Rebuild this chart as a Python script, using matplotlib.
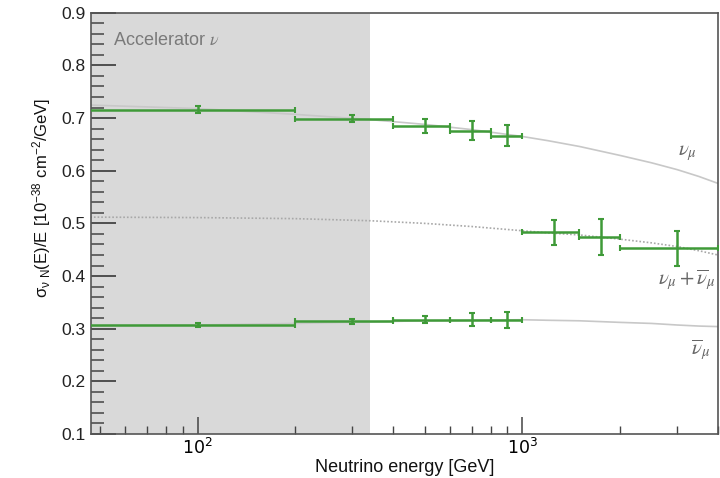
import matplotlib
matplotlib.use('Agg')
import matplotlib.pyplot as plt
from matplotlib.ticker import LogLocator, MultipleLocator, NullFormatter, FixedLocator

plt.rcParams['font.family'] = ['Liberation Sans', 'DejaVu Sans']

# measured points: bin centres, bin edges, values, errors
numu_x = [100, 300, 500, 700, 900]
numu_lo = [40, 200, 400, 600, 800]
numu_hi = [200, 400, 600, 800, 1000]
numu_y = [0.716, 0.699, 0.685, 0.676, 0.666]
numu_err = [0.006, 0.007, 0.014, 0.018, 0.020]

nubar_x = [100, 300, 500, 700, 900]
nubar_lo = [40, 200, 400, 600, 800]
nubar_hi = [200, 400, 600, 800, 1000]
nubar_y = [0.307, 0.314, 0.317, 0.317, 0.317]
nubar_err = [0.003, 0.005, 0.007, 0.012, 0.015]

sum_x = [1250, 1750, 3000]
sum_lo = [1000, 1500, 2000]
sum_hi = [1500, 2000, 4000]
sum_y = [0.483, 0.474, 0.453]
sum_err = [0.024, 0.034, 0.033]

# theory curves
curve_e = [40, 100, 200, 340, 500, 700, 1000, 1200, 1500, 2000, 2500, 3000, 3500, 4000]
curve_numu = [0.726, 0.718, 0.707, 0.697, 0.688, 0.678, 0.665, 0.657, 0.646, 0.629,
              0.615, 0.602, 0.589, 0.576]
curve_nubar = [0.305, 0.307, 0.310, 0.313, 0.315, 0.316, 0.317, 0.316, 0.315, 0.312,
               0.310, 0.307, 0.305, 0.304]
curve_sum = [0.512, 0.511, 0.509, 0.505, 0.500, 0.494, 0.486, 0.482, 0.478, 0.470,
             0.463, 0.456, 0.448, 0.440]

accel_max = 340
green = '#3f9a38'

fig = plt.figure(figsize=(7.2, 4.78), dpi=100)
ax = fig.add_axes([0.1264, 0.092, 0.8706, 0.8814])

ax.axvspan(30, accel_max, color='#d9d9d9', lw=0, zorder=0)

ax.plot(curve_e, curve_numu, color='#c8c8c8', lw=1.2, zorder=1)
ax.plot(curve_e, curve_nubar, color='#c8c8c8', lw=1.2, zorder=1)
ax.plot(curve_e, curve_sum, color='#a8a8a8', lw=1.2, ls=(0, (1, 1.2)), zorder=1)

for xs, lo, hi, ys, es in [(numu_x, numu_lo, numu_hi, numu_y, numu_err),
                           (nubar_x, nubar_lo, nubar_hi, nubar_y, nubar_err),
                           (sum_x, sum_lo, sum_hi, sum_y, sum_err)]:
    xerr = [[x - l for x, l in zip(xs, lo)], [h - x for x, h in zip(xs, hi)]]
    ax.errorbar(xs, ys, xerr=xerr, yerr=es, fmt='none', ecolor=green,
                elinewidth=1.8, capsize=2, capthick=1.5, zorder=3)

ax.set_xscale('log')
ax.set_xlim(47, 4000)
ax.set_ylim(0.1, 0.9)

ax.yaxis.set_major_locator(MultipleLocator(0.1))
ax.yaxis.set_minor_locator(MultipleLocator(0.02))
ax.xaxis.set_major_locator(FixedLocator([100, 1000]))
ax.xaxis.set_minor_locator(LogLocator(base=10, subs=range(2, 10)))
ax.xaxis.set_minor_formatter(NullFormatter())
ax.set_xticklabels(['$10^2$', '$10^3$'])

ax.tick_params(axis='y', which='major', direction='in', length=18, width=1.3,
               color='#444444', labelsize=12.5, pad=4, right=False)
ax.tick_params(axis='y', which='minor', direction='in', length=9, width=1.1,
               color='#444444', right=False)
ax.tick_params(axis='x', which='major', direction='in', length=12, width=1.1,
               color='#444444', labelsize=12.5, pad=2, top=False)
ax.tick_params(axis='x', which='minor', direction='in', length=6, width=1.0,
               color='#444444', top=False)
for lab in ax.get_yticklabels():
    lab.set_color('#222222')

for s in ax.spines.values():
    s.set_color('#555555')
    s.set_linewidth(1.2)

ax.text(0.035, 0.935, r'Accelerator $\nu$', transform=ax.transAxes, fontsize=13,
        color='#7a7a7a', va='center', ha='left', math_fontfamily='stix')
ax.text(3230, 0.633, r'$\nu_\mu$', fontsize=15, color='#666666', ha='center',
        va='center', math_fontfamily='stix')
ax.text(3210, 0.391, r'$\nu_\mu + \overline{\nu}_\mu$', fontsize=15, color='#666666',
        ha='center', va='center', math_fontfamily='stix')
ax.text(3545, 0.259, r'$\overline{\nu}_\mu$', fontsize=15, color='#666666',
        ha='center', va='center', math_fontfamily='stix')

fig.text(0.5625, 0.021, 'Neutrino energy [GeV]', fontsize=13, ha='center', va='center',
         color='#111111')
fig.text(0.058, 0.586, r'$\mathregular{\sigma_{\nu\ N}(E)/E\ [10^{-38}\ cm^{-2}/GeV]}$',
         fontsize=12, rotation=90, ha='center', va='center', color='#111111')

fig.savefig('out.png', dpi=100, facecolor='white')
